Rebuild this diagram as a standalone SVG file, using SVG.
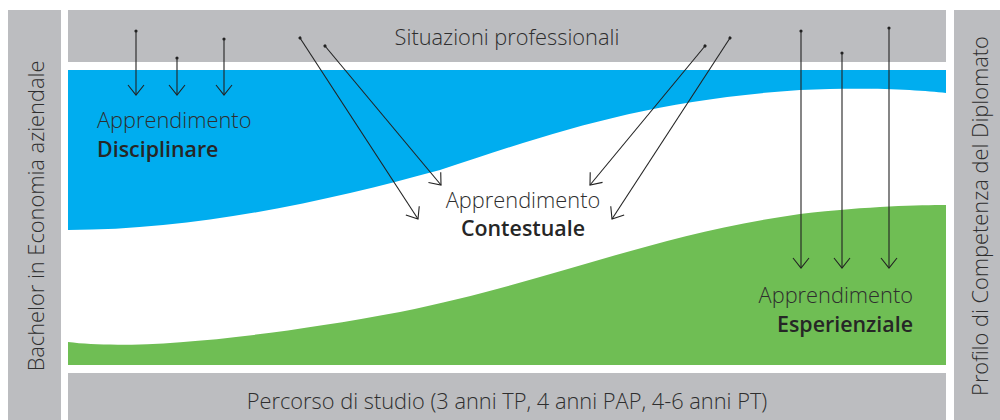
<svg xmlns="http://www.w3.org/2000/svg" width="1000" height="420" viewBox="0 0 1000 420">
<style>
.bar{fill:#bcbdc0}
.t{font-family:"Open Sans","DejaVu Sans",sans-serif;font-size:21.8px;font-weight:300;fill:#2e2e2e}
.b{font-family:"Open Sans","DejaVu Sans",sans-serif;font-size:21.4px;font-weight:600;fill:#262626}
.ar{stroke:#222;stroke-width:1.1;fill:none;marker-end:url(#ah);marker-start:url(#dot)}
</style>
<defs>
<marker id="ah" markerUnits="userSpaceOnUse" viewBox="-12 -10 14 20" refX="0" refY="0" markerWidth="14" markerHeight="20" orient="auto">
<path d="M-10,-8 L0,0 L-10,8" fill="none" stroke="#222" stroke-width="1.1"/>
</marker>
<marker id="dot" markerUnits="userSpaceOnUse" viewBox="-3 -3 6 6" refX="0" refY="0" markerWidth="6" markerHeight="6" orient="auto">
<circle r="1.6" fill="#222"/>
</marker>
</defs>
<rect width="1000" height="420" fill="#fff"/>
<g id="bachelor">
<rect class="bar" x="8" y="10" width="53" height="410"/>
<text class="t" transform="translate(44,216) rotate(-90)" text-anchor="middle">Bachelor in Economia aziendale</text>
</g>
<g id="profilo">
<rect class="bar" x="954" y="10" width="46" height="410"/>
<text class="t" transform="translate(988,216) rotate(-90)" text-anchor="middle">Profilo di Competenza del Diplomato</text>
</g>
<g id="situazioni">
<rect class="bar" x="68" y="10" width="878" height="52"/>
<text class="t" x="507" y="45" text-anchor="middle">Situazioni professionali</text>
</g>
<g id="percorso">
<rect class="bar" x="68" y="373" width="878" height="47"/>
<text class="t" x="507" y="409" text-anchor="middle">Percorso di studio (3 anni TP, 4 anni PAP, 4-6 anni PT)</text>
</g>
<g id="disciplinare">
<path d="M68,70 L946,70 L946,93 C920,90 870,87 800,90 C650,100 560,130 440,170 C330,200 200,230 68,230 Z" fill="#00adef"/>
<text class="t" x="97" y="128">Apprendimento</text>
<text class="b" x="97" y="157">Disciplinare</text>
</g>
<g id="esperienziale">
<path d="M68,342 C130,350 250,340 400,312 C550,282 650,235 800,214 C870,206 920,205 946,205 L946,365 L68,365 Z" fill="#6fbe54"/>
<text class="t" x="913" y="303" text-anchor="end">Apprendimento</text>
<text class="b" x="913" y="332" text-anchor="end">Esperienziale</text>
</g>
<g id="contestuale">
<text class="t" x="523" y="208" text-anchor="middle">Apprendimento</text>
<text class="b" x="523" y="236" text-anchor="middle">Contestuale</text>
</g>
<g id="connectors">
<line class="ar" x1="136" y1="31" x2="136" y2="95"/>
<line class="ar" x1="177" y1="58" x2="177" y2="95"/>
<line class="ar" x1="224" y1="39" x2="224" y2="95"/>
<line class="ar" x1="300" y1="38" x2="418" y2="219"/>
<line class="ar" x1="325" y1="46" x2="441" y2="185"/>
<line class="ar" x1="705" y1="46" x2="590" y2="185"/>
<line class="ar" x1="730" y1="38" x2="612" y2="219"/>
<line class="ar" x1="801" y1="31" x2="801" y2="268"/>
<line class="ar" x1="842" y1="53" x2="842" y2="268"/>
<line class="ar" x1="889" y1="28" x2="889" y2="268"/>
</g>
</svg>
